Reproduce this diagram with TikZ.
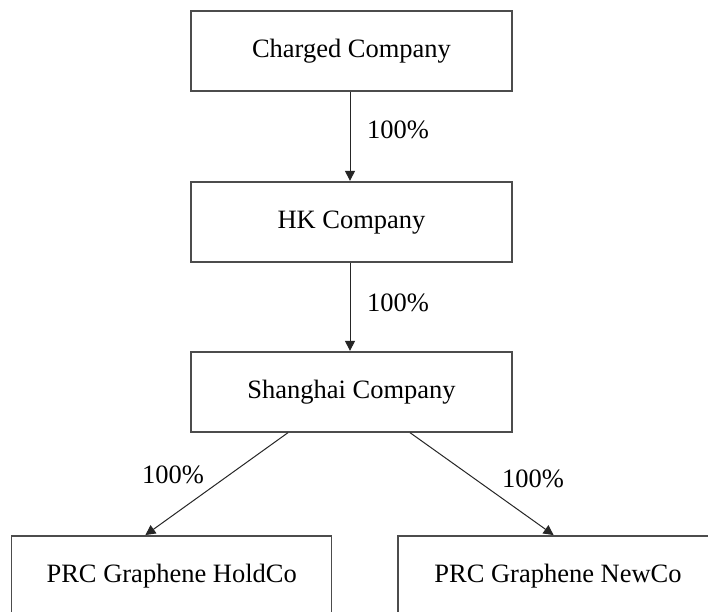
\documentclass[tikz,border=0pt]{standalone}
\usepackage{fontspec}
\setmainfont{Liberation Serif}
\usetikzlibrary{arrows.meta,calc}
\begin{document}
\begin{tikzpicture}[x=1pt,y=-1pt,
  entity/.style={draw=black!70,line width=1.3pt,minimum width=321pt,minimum height=80pt,inner sep=0pt,
    text height=18pt,text depth=5.4pt,
    font=\fontsize{26.5}{30}\selectfont,text=black},
  own/.style={draw=black!85,line width=1pt,-{Triangle[length=10pt,width=10pt]},shorten >=0.5pt},
  pct/.style={font=\fontsize{26.5}{30}\selectfont,text=black,inner sep=0pt}]
  \useasboundingbox (0,0) rectangle (708,611);
  \clip (0,0) rectangle (708,611);
  \fill[white] (0,0) rectangle (708,611);
  % ownership chain
  \node[entity] (charged) at (351.5,51) {Charged Company};
  \node[entity] (hk) at (351.5,222) {HK Company};
  \node[entity] (sh) at (351.5,392) {Shanghai Company};
  \node[entity,minimum width=320pt] (hold) at (171.7,576) {PRC Graphene HoldCo};
  \node[entity,minimum width=320pt] (newco) at (558,576) {PRC Graphene NewCo};
  % connectors
  \draw[own] ([xshift=-1.5pt]charged.south) -- ([xshift=-1.5pt]hk.north);
  \draw[own] ([xshift=-1.5pt]hk.south) -- ([xshift=-1.5pt]sh.north);
  \draw[own] ([xshift=-63.5pt]sh.south) -- ([xshift=-26.7pt]hold.north);
  \draw[own] ([xshift=58.5pt]sh.south) -- ([xshift=-4pt]newco.north);
  % percentage labels
  \node[pct] (p1) at (398,130) {100\%};
  \node[pct] (p2) at (398,303) {100\%};
  \node[pct] (p3) at (173,475) {100\%};
  \node[pct] (p4) at (533,479) {100\%};
\end{tikzpicture}
\end{document}
